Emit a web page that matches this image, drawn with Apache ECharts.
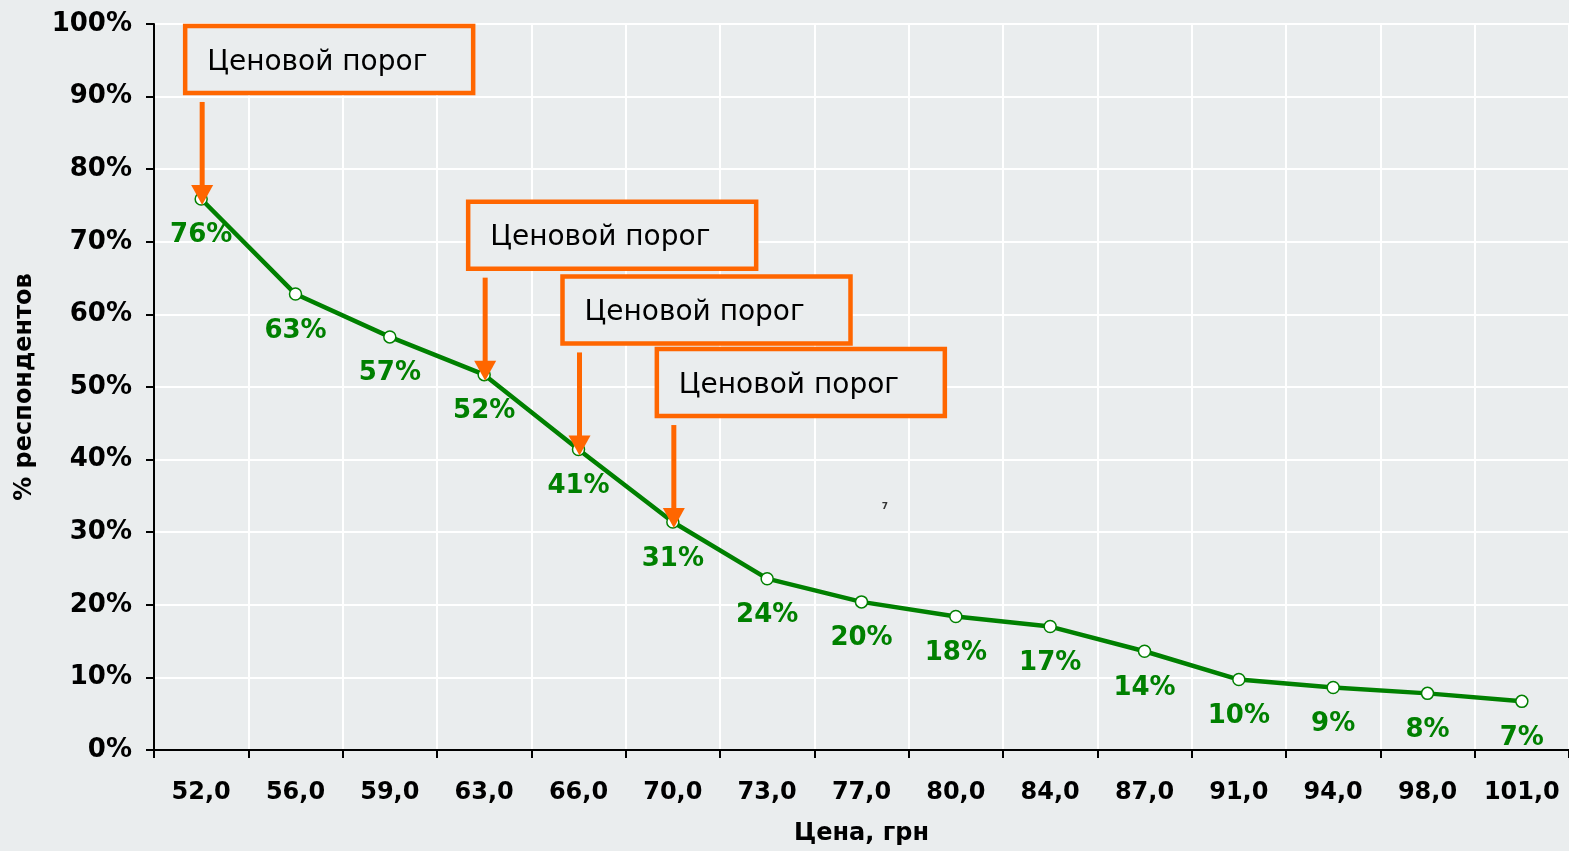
<!DOCTYPE html>
<html>
<head>
<meta charset="utf-8">
<script src="https://cdn.jsdelivr.net/npm/echarts@6/dist/echarts.min.js"></script>
<style>
html,body{margin:0;padding:0;background:#EAEDEE;}
#chart{width:1569px;height:851px;}
</style>
</head>
<body>
<div id="chart"></div>
<script>
const categories = ['52,0','56,0','59,0','63,0','66,0','70,0','73,0','77,0','80,0','84,0','87,0','91,0','94,0','98,0','101,0'];
const shareValues = [75.9, 62.8, 56.9, 51.7, 41.4, 31.4, 23.6, 20.4, 18.4, 17.0, 13.6, 9.7, 8.6, 7.8, 6.7];
const yTicks = [0,10,20,30,40,50,60,70,80,90,100];
const thresholdIdx = [0, 3, 4, 5];
const thresholdText = 'Ценовой порог';
const xTitle = 'Цена, грн';
const yTitle = '% респондентов';

const BG = '#EAEDEE';
const ORANGE = '#FF6600';
const GREEN = '#008000';
const FONT = '"DejaVu Sans", Verdana, sans-serif';

const chart = echarts.init(document.getElementById('chart'), null, {renderer:'canvas'});
const option = {
  backgroundColor: BG,
  animation: false,
  grid: {left: 154, right: 0, top: 24, bottom: 95, containLabel: false},
  xAxis: {
    type: 'category',
    data: categories,
    boundaryGap: true,
    name: xTitle,
    nameLocation: 'middle',
    nameGap: 72,
    nameTextStyle: {fontFamily: FONT, fontWeight: 'bold', fontSize: 24, color: '#000'},
    axisLine: {show: true, lineStyle: {color: '#000', width: 2}},
    axisTick: {show: true, inside: false, length: 8, alignWithLabel: false, interval: 0, lineStyle: {color: '#000', width: 2}},
    axisLabel: {interval: 0, margin: 31, fontFamily: FONT, fontWeight: 'bold', fontSize: 24, color: '#000'},
    splitLine: {show: true, interval: 0, lineStyle: {color: '#FFFFFF', width: 2}}
  },
  yAxis: {
    type: 'value',
    min: yTicks[0],
    max: yTicks[yTicks.length-1],
    interval: yTicks[1]-yTicks[0],
    name: yTitle,
    nameLocation: 'middle',
    nameGap: 117,
    nameRotate: 90,
    nameTextStyle: {fontFamily: FONT, fontWeight: 'bold', fontSize: 24, color: '#000'},
    axisLine: {show: true, lineStyle: {color: '#000', width: 2}},
    axisTick: {show: true, inside: false, length: 8, lineStyle: {color: '#000', width: 2}},
    axisLabel: {margin: 22, formatter: '{value}%', fontFamily: FONT, fontWeight: 'bold', fontSize: 26, color: '#000'},
    splitLine: {show: true, lineStyle: {color: '#FFFFFF', width: 2}}
  },
  series: [{
    type: 'line',
    data: shareValues,
    symbol: 'circle',
    symbolSize: 12,
    showAllSymbol: true,
    lineStyle: {color: GREEN, width: 4.5},
    itemStyle: {color: '#FFFFFF', borderColor: GREEN, borderWidth: 1.5},
    label: {
      show: true,
      position: 'bottom',
      distance: 17,
      formatter: p => Math.round(p.value) + '%',
      fontFamily: FONT, fontWeight: 'bold', fontSize: 26, color: GREEN
    },
    emphasis: {disabled: true},
    z: 3
  }]
};
chart.setOption(option);

// annotations anchored to data points via the library's scale
const graphics = [];
thresholdIdx.forEach((idx, k) => {
  const p = chart.convertToPixel({seriesIndex: 0}, [idx, shareValues[idx]]);
  const ax = p[0] + 1;
  const boxW = 288, boxH = 67;
  const boxLeft = ax - 17;
  const boxTop = p[1] - 106 - boxH;
  graphics.push({
    type: 'rect', z: 100 + k * 3,
    shape: {x: boxLeft, y: boxTop, width: boxW, height: boxH},
    style: {fill: BG, stroke: ORANGE, lineWidth: 4.5}
  });
  graphics.push({
    type: 'text', z: 101 + k * 3,
    style: {x: boxLeft + 22, y: boxTop + boxH / 2 + 3, text: thresholdText, font: '28px ' + FONT, fill: '#000', textVerticalAlign: 'middle', textAlign: 'left'}
  });
  const arrowTop = boxTop + boxH + 9;
  const tip = p[1] + 6;
  graphics.push({
    type: 'line', z: 102 + k * 3,
    shape: {x1: ax, y1: arrowTop, x2: ax, y2: tip - 16},
    style: {stroke: ORANGE, lineWidth: 5}
  });
  graphics.push({
    type: 'polygon', z: 102 + k * 3,
    shape: {points: [[ax - 11, tip - 20], [ax + 11, tip - 20], [ax, tip]]},
    style: {fill: ORANGE}
  });
});
graphics.push({
  type: 'text', z: 50,
  style: {x: 885, y: 507, text: '7', font: 'bold 9px ' + FONT, fill: '#333', textAlign: 'center', textVerticalAlign: 'middle'}
});
chart.setOption({graphic: graphics});
</script>
</body>
</html>
